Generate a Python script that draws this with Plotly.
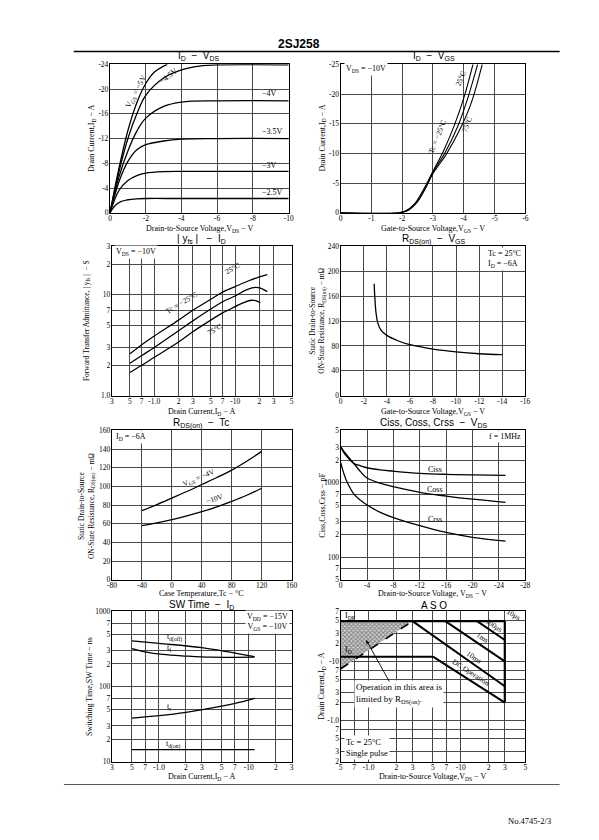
import math
import plotly.graph_objects as go

W, H = 599, 840
SERIF = "Liberation Serif"
SANS = "Liberation Sans"

# ---------------- DATA ----------------
# Panel 1 : ID - VDS (output characteristics)
p1_vds_25 = [0, -0.3, -0.6, -1, -1.5, -2, -4, -10]
p1_id_25 = [0, -1.2, -1.8, -2.1, -2.25, -2.3, -2.3, -2.3]
p1_vds_30 = [0, -0.5, -1, -1.5, -2, -3, -4, -10]
p1_id_30 = [0, -3.6, -5.2, -6.0, -6.4, -6.65, -6.7, -6.7]
p1_vds_35 = [0, -0.5, -1, -1.5, -2, -3, -4, -6, -10]
p1_id_35 = [0, -5.0, -8.3, -10.2, -11.0, -11.6, -11.9, -12.0, -12.0]
p1_vds_40 = [0, -0.5, -1, -1.5, -2, -3, -4, -6, -10]
p1_id_40 = [0, -5.8, -10.0, -13.2, -15.3, -17.2, -17.9, -18.1, -18.1]
p1_vds_45 = [0, -0.5, -1, -1.5, -2, -3, -4, -5, -6, -10]
p1_id_45 = [0, -6.6, -12.0, -16.0, -19.0, -21.8, -23.1, -23.7, -23.9, -23.9]
p1_vds_50 = [0, -0.5, -1, -1.5, -2, -2.5, -3.2]
p1_id_50 = [0, -7.2, -13.3, -17.8, -20.9, -22.8, -24.0]

# Panel 2 : ID - VGS (transfer)
p2_vgs_m25 = [0, -1.85, -2.1, -2.4, -2.7, -3.0, -3.35, -3.7, -4.0, -4.3]
p2_id_m25 = [0, 0, -0.3, -1.5, -4.0, -7.0, -10.5, -14.8, -19.3, -25]
p2_vgs_25 = [0, -1.9, -2.15, -2.45, -2.75, -3.0, -3.4, -3.8, -4.1, -4.45]
p2_id_25 = [0, 0, -0.35, -1.6, -4.1, -6.8, -10.2, -14.5, -18.8, -25]
p2_vgs_75 = [0, -1.95, -2.2, -2.5, -2.8, -3.0, -3.45, -3.9, -4.25, -4.6]
p2_id_75 = [0, 0, -0.4, -1.9, -4.6, -6.6, -10.0, -14.3, -18.6, -25]

# Panel 3 : |yfs| - ID
p3_id_m25 = [0.5, 0.7, 1, 2, 3, 5, 7, 10, 15, 20, 25]
p3_yfs_m25 = [2.6, 3.2, 3.9, 5.6, 7.0, 9.0, 10.6, 12.0, 13.8, 15.0, 15.8]
p3_id_25 = [0.5, 0.7, 1, 2, 3, 5, 7, 10, 14, 18, 21, 25]
p3_yfs_25 = [2.1, 2.5, 3.0, 4.4, 5.5, 7.2, 8.5, 9.7, 11.2, 11.8, 11.5, 10.7]
p3_id_75 = [0.5, 0.7, 1, 2, 3, 5, 7, 10, 13, 16, 18, 20.5]
p3_yfs_75 = [1.7, 2.0, 2.4, 3.4, 4.3, 5.6, 6.6, 7.6, 8.4, 8.8, 8.7, 8.3]

# Panel 4 : RDS(on) - VGS
p4_vgs = [-2.9, -2.95, -3.05, -3.2, -3.5, -4, -5, -6, -8, -10, -12, -14]
p4_rds = [180, 160, 135, 118, 105, 97, 88, 82, 75, 70.5, 67.5, 66]

# Panel 5 : RDS(on) - Tc
p5_tc = [-40, -20, 0, 20, 40, 60, 80, 100, 120]
p5_rds_4v = [74, 80.5, 87.5, 94.5, 102, 109.5, 117.5, 127, 137.5]
p5_rds_10v = [58, 61, 64.5, 68.5, 73, 78, 84, 90.5, 98]

# Panel 6 : Ciss, Coss, Crss - VDS
p6_vds = [0, -0.5, -1, -2, -3, -4, -6, -8, -12, -16, -20, -25]
p6_ciss = [3000, 2500, 2200, 1800, 1680, 1580, 1480, 1420, 1330, 1290, 1270, 1250]
p6_coss = [3000, 2600, 2300, 1800, 1400, 1150, 980, 880, 740, 660, 600, 545]
p6_crss = [1850, 1300, 1000, 700, 580, 500, 400, 340, 265, 215, 185, 165]

# Panel 7 : SW Time - ID
p7_id_tdoff = [0.5, 1, 3, 11.6]
p7_tdoff = [405, 375, 330, 250]
p7_id_tf = [0.5, 0.7, 1.1, 2, 3.8, 11.6]
p7_tf = [320, 290, 268, 255, 246, 246]
p7_id_tr = [0.5, 1, 2, 5, 8, 11.6]
p7_tr = [38, 41, 45.5, 55, 62, 70]
p7_id_tdon = [0.5, 11.6]
p7_tdon = [14.5, 14.5]

# Panel 8 : ASO
p8_idp_v = [0.5, 30]
p8_idp_i = [48, 48]
p8_edge_v = [30, 30]
p8_edge_i = [48, 2]
p8_id_v = [0.5, 5]
p8_id_i = [12, 12]
p8_dc_v = [5, 30]
p8_dc_i = [12, 2]
p8_10ms_v = [3, 30]
p8_10ms_i = [48, 3.8]
p8_1ms_v = [6.8, 30]
p8_1ms_i = [48, 10]
p8_100us_v = [15, 30]
p8_100us_i = [48, 23]
p8_rds_v = [0.5, 3]
p8_rds_i = [7.5, 48]
p8_hatch_v = [0.5, 0.5, 3, 0.5]
p8_hatch_i = [7.5, 48, 48, 7.5]

# Tick labels
lin_x1 = [0, -2, -4, -6, -8, -10]
lin_y1 = [0, -4, -8, -12, -16, -20, -24]
lin_x2 = [0, -1, -2, -3, -4, -5, -6]
lin_y2 = [0, -5, -10, -15, -20, -25]
log_x3 = [0.3, 0.5, 0.7, 1, 2, 3, 5, 7, 10, 20, 30, 50]
log_x3_txt = ["3", "5", "7", "-1.0", "2", "3", "5", "7", "-10", "2", "3", "5"]
log_y3 = [1, 2, 3, 5, 7, 10, 20, 30]
log_y3_txt = ["1.0", "2", "3", "5", "7", "10", "2", "3"]
lin_x4 = [0, -2, -4, -6, -8, -10, -12, -14, -16]
lin_y4 = [0, 40, 80, 120, 160, 200, 240]
lin_x5 = [-80, -40, 0, 40, 80, 120, 160]
lin_y5 = [0, 20, 40, 60, 80, 100, 120, 140, 160]
lin_x6 = [0, -4, -8, -12, -16, -20, -24, -28]
log_y6 = [50, 70, 100, 200, 300, 500, 700, 1000, 2000, 3000, 5000]
log_y6_txt = ["5", "7", "100", "2", "3", "5", "7", "1000", "2", "3", "5"]
log_x7 = [0.3, 0.5, 0.7, 1, 2, 3, 5, 7, 10, 20, 30]
log_x7_txt = ["3", "5", "7", "-1.0", "2", "3", "5", "7", "-10", "2", "3"]
log_y7 = [10, 20, 30, 50, 70, 100, 200, 300, 500, 700, 1000]
log_y7_txt = ["10", "2", "3", "5", "7", "100", "2", "3", "5", "7", "1000"]
log_x8 = [0.5, 0.7, 1, 2, 3, 5, 7, 10, 20, 30, 50]
log_x8_txt = ["5", "7", "-1.0", "2", "3", "5", "7", "-10", "2", "3", "5"]
log_y8 = [0.2, 0.3, 0.5, 0.7, 1, 2, 3, 5, 7, 10, 20, 30, 50, 70]
log_y8_txt = ["2", "3", "5", "7", "-1.0", "2", "3", "5", "7", "-10", "2", "3", "5", "7"]

# ---------------- FIGURE ----------------
fig = go.Figure()

def line(x, y, n, width=1.3, dash="solid", shape="spline"):
    fig.add_trace(go.Scatter(
        x=x, y=y, mode="lines",
        line=dict(color="black", width=width, dash=dash, shape=shape),
        xaxis="x" if n == 1 else f"x{n}", yaxis="y" if n == 1 else f"y{n}",
        showlegend=False, hoverinfo="skip"))

for xs, ys in [(p1_vds_25, p1_id_25), (p1_vds_30, p1_id_30), (p1_vds_35, p1_id_35),
               (p1_vds_40, p1_id_40), (p1_vds_45, p1_id_45), (p1_vds_50, p1_id_50)]:
    line(xs, ys, 1)
for xs, ys in [(p2_vgs_m25, p2_id_m25), (p2_vgs_25, p2_id_25), (p2_vgs_75, p2_id_75)]:
    line(xs, ys, 2, width=1.1)
for xs, ys in [(p3_id_m25, p3_yfs_m25), (p3_id_25, p3_yfs_25), (p3_id_75, p3_yfs_75)]:
    line(xs, ys, 3)
line(p4_vgs, p4_rds, 4)
line(p5_tc, p5_rds_4v, 5)
line(p5_tc, p5_rds_10v, 5)
for ys in [p6_ciss, p6_coss, p6_crss]:
    line(p6_vds, ys, 6)
line(p7_id_tdoff, p7_tdoff, 7)
line(p7_id_tf, p7_tf, 7)
line(p7_id_tr, p7_tr, 7)
line(p7_id_tdon, p7_tdon, 7)

# ASO hatched region
fig.add_trace(go.Scatter(
    x=p8_hatch_v, y=p8_hatch_i, mode="lines", fill="toself",
    line=dict(width=0), fillcolor="rgba(0,0,0,0)",
    fillpattern=dict(shape="x", size=3, solidity=0.55, fgcolor="#3a3a3a", bgcolor="#cfcfcf"),
    xaxis="x8", yaxis="y8", showlegend=False, hoverinfo="skip"))
line(p8_idp_v, p8_idp_i, 8, width=2.2, shape="linear")
line(p8_edge_v, p8_edge_i, 8, width=2.2, shape="linear")
line(p8_id_v, p8_id_i, 8, width=2.0, shape="linear")
line(p8_dc_v, p8_dc_i, 8, width=2.0, shape="linear")
line(p8_10ms_v, p8_10ms_i, 8, width=2.0, shape="linear")
line(p8_1ms_v, p8_1ms_i, 8, width=2.0, shape="linear")
line(p8_100us_v, p8_100us_i, 8, width=2.0, shape="linear")
line(p8_rds_v, p8_rds_i, 8, width=1.6, dash="dash", shape="linear")

# ---------------- AXES ----------------
def dom(x0, x1, y0, y1):
    return [x0 / W, x1 / W], [1 - y1 / H, 1 - y0 / H]

base = dict(showgrid=True, gridcolor="#4a4a4a", gridwidth=0.8, showline=True,
            linecolor="black", linewidth=1.3, mirror=True, zeroline=False,
            ticks="", tickfont=dict(family=SERIF, size=7.5, color="black"),
            fixedrange=True, tickmode="array")

def fmt(v):
    return str(v)

panels = [
    (1, (107, 289, 61, 211), "linear", [0, -10], lin_x1, [fmt(v) for v in lin_x1],
     "linear", [0, -24], lin_y1, [fmt(v) for v in lin_y1]),
    (2, (342, 530, 61, 211), "linear", [0, -6], lin_x2, [fmt(v) for v in lin_x2],
     "linear", [0, -25], lin_y2, [fmt(v) for v in lin_y2]),
    (3, (109, 292, 245, 396), "log", [math.log10(0.3), math.log10(50)], log_x3, log_x3_txt,
     "log", [0, math.log10(30)], log_y3, log_y3_txt),
    (4, (342, 530, 245, 396), "linear", [0, -16], lin_x4, [fmt(v) for v in lin_x4],
     "linear", [0, 240], lin_y4, [fmt(v) for v in lin_y4]),
    (5, (109, 292, 431, 582), "linear", [-80, 160], lin_x5, [fmt(v) for v in lin_x5],
     "linear", [0, 160], lin_y5, [fmt(v) for v in lin_y5]),
    (6, (342, 530, 431, 582), "linear", [0, -28], lin_x6, [fmt(v) for v in lin_x6],
     "log", [math.log10(50), math.log10(5000)], log_y6, log_y6_txt),
    (7, (109, 292, 614, 766), "log", [math.log10(0.3), math.log10(30)], log_x7, log_x7_txt,
     "log", [1, 3], log_y7, log_y7_txt),
    (8, (342, 530, 614, 766), "log", [math.log10(0.5), math.log10(50)], log_x8, log_x8_txt,
     "log", [math.log10(0.2), math.log10(70)], log_y8, log_y8_txt),
]

layout_axes = {}
for n, box, xt, xr, xtv, xtt, yt, yr, ytv, ytt in panels:
    xd, yd = dom(*box)
    xk = "xaxis" if n == 1 else f"xaxis{n}"
    yk = "yaxis" if n == 1 else f"yaxis{n}"
    layout_axes[xk] = dict(base, domain=xd, type=xt, range=xr, tickvals=xtv, ticktext=xtt,
                           anchor="y" if n == 1 else f"y{n}", ticklabelstandoff=-2)
    layout_axes[yk] = dict(base, domain=yd, type=yt, range=yr, tickvals=ytv, ticktext=ytt,
                           anchor="x" if n == 1 else f"x{n}", ticklabelstandoff=-1)

# ---------------- ANNOTATIONS ----------------
anns = []

def pann(text, px, py, size=8, family=SERIF, angle=0, xanchor="center", yanchor="middle",
         align="center", bg=None):
    d = dict(text=text, x=px / W, y=1 - py / H, xref="paper", yref="paper", showarrow=False,
             font=dict(family=family, size=size, color="black"), textangle=angle,
             xanchor=xanchor, yanchor=yanchor, align=align)
    if bg:
        d["bgcolor"] = bg
    anns.append(d)

def dann(text, x, y, n, size=8, angle=0, xanchor="center", yanchor="middle", logx=False,
         logy=False, bg=None, align="left"):
    d = dict(text=text, x=math.log10(x) if logx else x, y=math.log10(y) if logy else y,
             xref="x" if n == 1 else f"x{n}", yref="y" if n == 1 else f"y{n}",
             showarrow=False, font=dict(family=SERIF, size=size, color="black"),
             textangle=angle, xanchor=xanchor, yanchor=yanchor, align=align)
    if bg:
        d["bgcolor"] = bg
    anns.append(d)

# Page header / footer
pann("<b>2SJ258</b>", 300, 40, size=12, family=SANS)
pann("No.4745-2/3", 534, 826, size=8.5)

# Panel titles
pann("I<sub>D</sub>  −  V<sub>DS</sub>", 198, 53, size=10, family=SANS)
pann("I<sub>D</sub>  −  V<sub>GS</sub>", 437, 53, size=10, family=SANS)
pann("| y<sub>fs</sub> |   −  I<sub>D</sub>", 200, 238, size=10, family=SANS)
pann("R<sub>DS(on)</sub>  −  V<sub>GS</sub>", 437, 238, size=10, family=SANS)
pann("R<sub>DS(on)</sub>  −  Tc", 200, 424, size=10, family=SANS)
pann("Ciss, Coss, Crss  −  V<sub>DS</sub>", 437, 424, size=10, family=SANS)
pann("SW Time  −  I<sub>D</sub>", 200, 608, size=10, family=SANS)
pann("A S O", 437, 608, size=10, family=SANS)

# X axis titles
pann("Drain-to-Source Voltage,V<sub>DS</sub> − V", 198, 227)
pann("Gate-to-Source Voltage,V<sub>GS</sub> − V", 436, 227)
pann("Drain Current,I<sub>D</sub> − A", 200, 412)
pann("Gate-to-Source Voltage,V<sub>GS</sub> − V", 436, 412)
pann("Case Temperature,Tc − °C", 200, 596)
pann("Drain-to-Source Voltage, V<sub>DS</sub> − V", 436, 596)
pann("Drain Current,I<sub>D</sub> − A", 200, 781)
pann("Drain-to-Source Voltage,V<sub>DS</sub> − V", 436, 781)

# Y axis titles
pann("Drain Current,I<sub>D</sub> − A", 88, 136, angle=-90)
pann("Drain Current,I<sub>D</sub> − A", 323, 136, angle=-90)
pann("Forward Transfer Admittance, | y<sub>fs</sub> |  − S", 83, 320, angle=-90, size=7.5)
pann("Static Drain-to-Source<br>ON-State Resistance, R<sub>DS(on)</sub> − mΩ", 318, 320,
     angle=-90, size=7.5)
pann("Static Drain-to-Source<br>ON-State Resistance, R<sub>DS(on)</sub> − mΩ", 83, 507,
     angle=-90, size=7.5)
pann("Ciss,Coss,Crss − pF", 323, 507, angle=-90)
pann("Switching Time,SW Time − ns", 86, 690, angle=-90)
pann("Drain Current,I<sub>D</sub> − A", 323, 690, angle=-90)

# Panel 1 curve labels
dann("−4V", -8.4, -19.3, 1, xanchor="left")
dann("−3.5V", -8.4, -13.1, 1, xanchor="left")
dann("−3V", -8.4, -7.6, 1, xanchor="left")
dann("−2.5V", -8.4, -3.3, 1, xanchor="left")
dann("V<sub>GS</sub> = −5V", -1.45, -19.6, 1, angle=-62, size=8)
dann("−4.5V", -3.3, -22.2, 1, angle=-38, size=8)

# Panel 2 labels
pann("V<sub>DS</sub> = −10V", 345, 66, xanchor="left", bg="white")
dann("25°C", -3.9, -22.6, 2, angle=-68, size=7.5)
dann("Tc = −25°C", -3.15, -12.8, 2, angle=-68, size=7.5)
dann("75°C", -4.12, -15.0, 2, angle=-68, size=7.5)

# Panel 3 labels
pann("V<sub>DS</sub> = −10V", 111, 251, xanchor="left", bg="white")
dann("Tc = −25°C", 2.2, 8.3, 3, angle=-31, size=7.5, logx=True, logy=True)
dann("25°C", 9.3, 18.0, 3, angle=-30, size=7.5, logx=True, logy=True)
dann("75°C", 5.6, 4.5, 3, angle=-30, size=7.5, logx=True, logy=True)

# Panel 4 labels
pann("Tc = 25°C<br>I<sub>D</sub> = −6A", 528, 258, xanchor="right", align="left", bg="white")

# Panel 5 labels
pann("I<sub>D</sub> = −6A", 111, 438, xanchor="left", bg="white")
dann("V<sub>GS</sub> = −4V", 36, 109, 5, angle=-23, size=7.5)
dann("−10V", 58, 87, 5, angle=-18, size=7.5)

# Panel 6 labels
pann("f = 1MHz", 528, 437, xanchor="right", bg="white")
dann("Ciss", -14.3, 1500, 6, logy=True)
dann("Coss", -14.3, 810, 6, logy=True)
dann("Crss", -14.3, 320, 6, logy=True)

# Panel 7 labels
pann("V<sub>DD</sub> = −15V<br>V<sub>GS</sub> = −10V", 290, 625, xanchor="right", bg="white")
dann("t<sub>d(off)</sub>", 1.5, 450, 7, logx=True, logy=True)
dann("t<sub>f</sub>", 1.3, 322, 7, logx=True, logy=True)
dann("t<sub>r</sub>", 1.3, 54, 7, logx=True, logy=True)
dann("t<sub>d(on)</sub>", 1.45, 17, 7, logx=True, logy=True)

# Panel 8 labels
dann("I<sub>DP</sub>", 0.53, 58, 8, xanchor="left", logx=True, logy=True)
dann("I<sub>D</sub>", 0.53, 15.5, 8, xanchor="left", logx=True, logy=True)
dann("10μs", 37, 61, 8, angle=30, size=7.5, logx=True, logy=True)
dann("100μs", 23, 41, 8, angle=33, size=7.5, logx=True, logy=True)
dann("1ms", 17, 25, 8, angle=33, size=7.5, logx=True, logy=True)
dann("10ms", 14, 11.8, 8, angle=33, size=7.5, logx=True, logy=True)
dann("DC Operation", 13, 6.6, 8, angle=33, size=7.5, logx=True, logy=True)
pann("Operation in this area is<br>limited by R<sub>DS(on)</sub>.", 356, 697, size=9,
     xanchor="left", align="left", bg="white")
pann("Tc = 25°C<br>Single pulse", 345, 752, size=8.5, xanchor="left", align="left",
     bg="white")
anns.append(dict(x=368 / W, y=1 - 643 / H, xref="paper", yref="paper", text="",
                 showarrow=True, arrowhead=2, arrowsize=0.8, arrowwidth=0.9,
                 arrowcolor="black", ax=24, ay=43, axref="pixel", ayref="pixel"))

# ---------------- SHAPES ----------------
shapes = [
    dict(type="line", xref="paper", yref="paper", x0=70 / W, x1=565 / W,
         y0=1 - 48 / H, y1=1 - 48 / H, line=dict(color="black", width=1.6)),
    dict(type="line", xref="paper", yref="paper", x0=60 / W, x1=565 / W,
         y0=1 - 789 / H, y1=1 - 789 / H, line=dict(color="#555", width=1)),
]

fig.update_layout(
    width=W, height=H, margin=dict(l=0, r=0, t=0, b=0),
    paper_bgcolor="white", plot_bgcolor="white",
    showlegend=False, annotations=anns, shapes=shapes,
    font=dict(family=SERIF, color="black"),
    **layout_axes,
)

fig.write_html("out.html", config={"displayModeBar": False},
               post_script="document.body.style.margin='0';"
                           "document.body.style.overflow='hidden';")
